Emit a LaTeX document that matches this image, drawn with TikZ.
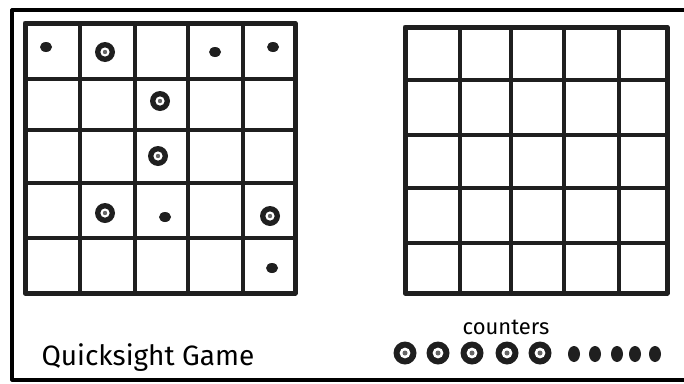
\documentclass[tikz,border=0pt]{standalone}
\usepackage{fontspec}
\setmainfont{Fira Sans}

\begin{document}
\begin{tikzpicture}[
  x=1pt,
  y=-1pt,
  line cap=round,
  line join=round,
  gridline/.style={line width=3.4pt,black!88},
  gridframe/.style={line width=5pt,black!88},
  ringmark/.style={fill=black!88},
  dotmark/.style={fill=black!88}
]
  \def\ringr{10pt}
  \def\bigringr{11.5pt}

  \useasboundingbox (0,0) rectangle (684,383);
  % page frame, no right edge
  \draw[line width=3.2pt] (684,10) -- (12,10) -- (12,380) -- (684,380);

  % left board
  \foreach \x in {80,135,188,243} \draw[gridline] (\x,23) -- (\x,293);
  \foreach \y in {79,130,183,238} \draw[gridline] (25,\y) -- (295,\y);
  \draw[gridframe] (25,23) rectangle (295,293);

  % right board
  \foreach \x in {460,511,564,619} \draw[gridline] (\x,27) -- (\x,293);
  \foreach \y in {80,135,188,243} \draw[gridline] (405,\y) -- (667,\y);
  \draw[gridframe] (405,27) rectangle (667,293);

  % rings on the left board
  \foreach \x/\y in {105/52, 160/101, 158/156, 105/213, 270/216} {
    \fill[ringmark] (\x,\y) circle (\ringr);
    \fill[white] (\x,\y) circle (4.6pt);
    \fill[black!60] (\x,\y) circle (2.2pt);
  }
  % dots on the left board
  \foreach \x/\y in {46/47, 215/52, 273/47, 165/217, 272/268} {
    \fill[dotmark] (\x,\y) ellipse (6pt and 5pt);
  }

  % counters
  \foreach \x in {405,438,472,507,540} {
    \fill[ringmark] (\x,353) circle (\bigringr);
    \fill[white] (\x,353) circle (5.4pt);
    \fill[black!60] (\x,353) circle (2.5pt);
  }
  \foreach \x in {574,595,617,635,655} {
    \fill[dotmark] (\x,354) ellipse (6pt and 8pt);
  }

  \node[anchor=base west,font=\fontsize{28}{32}\selectfont] (title) at (38,365) {Quicksight Game};
  \node[anchor=base,font=\fontsize{22}{26}\selectfont] (counters) at (506,334) {counters};
\end{tikzpicture}
\end{document}
